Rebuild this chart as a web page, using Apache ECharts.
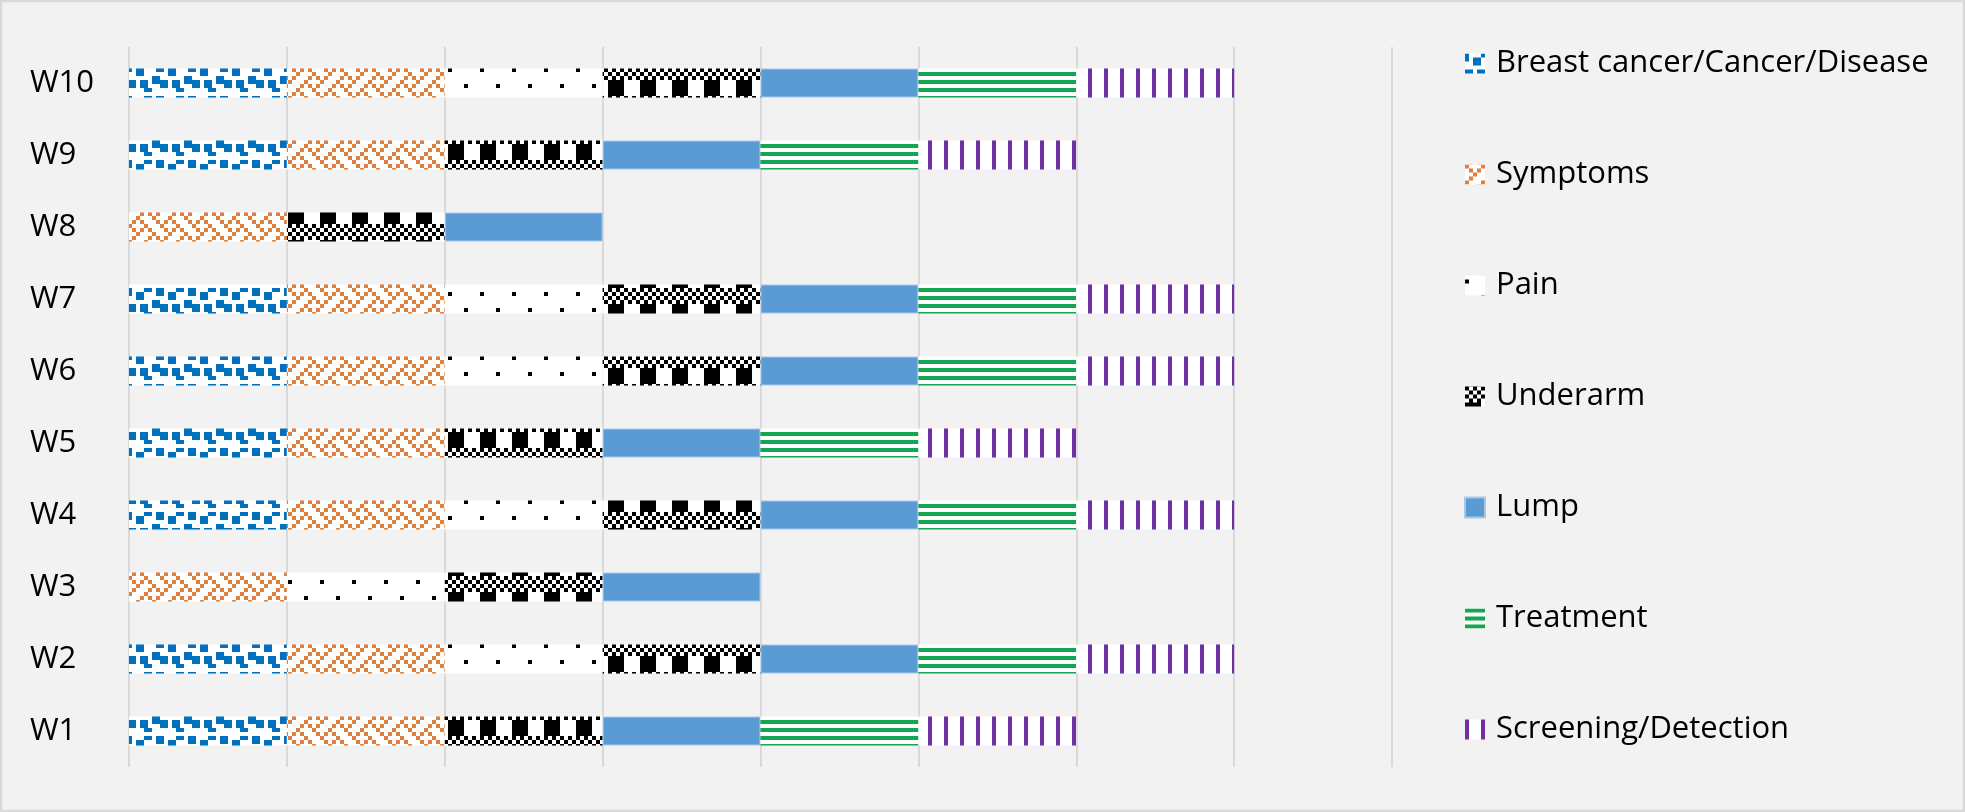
<!DOCTYPE html>
<html>
<head>
<meta charset="utf-8">
<script src="https://cdn.jsdelivr.net/npm/echarts@6/dist/echarts.min.js"></script>
<style>
html,body{margin:0;padding:0;background:#f2f2f2;}
#chart{width:1965px;height:812px;}
</style>
</head>
<body>
<div id="chart"></div>
<script>
// ---- data ----
const categories = ['W1','W2','W3','W4','W5','W6','W7','W8','W9','W10'];
const seriesNames = ['Breast cancer/Cancer/Disease','Symptoms','Pain','Underarm','Lump','Treatment','Screening/Detection'];
const breastCancer = [1,1,0,1,1,1,1,0,1,1];
const symptoms     = [1,1,1,1,1,1,1,1,1,1];
const pain         = [0,1,1,1,0,1,1,0,0,1];
const underarm     = [1,1,1,1,1,1,1,1,1,1];
const lump         = [1,1,1,1,1,1,1,1,1,1];
const treatment    = [1,1,0,1,1,1,1,0,1,1];
const screening    = [1,1,0,1,1,1,1,0,1,1];
const xTicks = [0,1,2,3,4,5,6,7,8];

// ---- pattern tiles ----
function tile(rows, fg, bg, cell) {
  const n = rows.length, m = rows[0].length;
  const c = document.createElement('canvas');
  c.width = m * cell; c.height = n * cell;
  const ctx = c.getContext('2d');
  ctx.fillStyle = bg; ctx.fillRect(0, 0, c.width, c.height);
  ctx.fillStyle = fg;
  for (let r = 0; r < n; r++) for (let k = 0; k < m; k++)
    if (rows[r][k] === '1') ctx.fillRect(k * cell, r * cell, cell, cell);
  return {image: c, repeat: 'repeat'};
}
const patBreast = tile(['10001101','10110001','00110000','00000011','11011011','11011000','00001100','00000000'], '#0070C0', '#ffffff', 4);
const patSymptoms = tile(['10001000','01010100','00100010','01000101','10001000','00010101','00100010','01010001'], '#E0803C', '#ffffff', 4);
const patPain = tile(['00000000','10000000','00000000','00000000','00000000','00001000','00000000','00000000'], '#000000', '#ffffff', 4);
const patUnderarm = tile(['10101010','01010101','10101010','01010101','11110000','11110000','11110000','11110000'], '#000000', '#ffffff', 4);
const patTreatment = tile(['11111111','00000000'], '#13A552', '#ffffff', 4);
const patScreening = tile(['1000','1000'], '#7030A0', '#ffffff', 4);
const fills = [patBreast, patSymptoms, patPain, patUnderarm, '#5B9BD5', patTreatment, patScreening];
const values = [breastCancer, symptoms, pain, underarm, lump, treatment, screening];

const FONT = '"Open Sans", sans-serif';
const chart = echarts.init(document.getElementById('chart'), null, {renderer: 'canvas'});
chart.setOption({
  backgroundColor: '#f2f2f2',
  animation: false,
  graphic: [{
    type: 'rect', shape: {x: 1, y: 1, width: 1963, height: 810},
    style: {fill: 'none', stroke: '#d9d9d9', lineWidth: 2.5}, z: 100
  }],
  grid: {left: 129, right: 573, top: 47, bottom: 45},
  legend: {
    orient: 'vertical', left: 1459, top: 43,
    itemWidth: 20, itemHeight: 20, itemGap: 80,
    icon: 'rect',
    data: seriesNames,
    textStyle: {fontFamily: FONT, fontSize: 31, color: '#000', lineHeight: 30, padding: [0,0,0,6]}
  },
  xAxis: {
    type: 'value', min: xTicks[0], max: xTicks[xTicks.length-1], interval: 1,
    axisLabel: {show: false}, axisTick: {show: false}, axisLine: {show: false},
    splitLine: {show: true, lineStyle: {color: '#d9d9d9', width: 2}}
  },
  yAxis: {
    type: 'category', data: categories,
    axisLine: {show: false}, axisTick: {show: false},
    axisLabel: {fontFamily: FONT, fontSize: 31, color: '#000', align: 'left', margin: 99}
  },
  series: seriesNames.map((name, i) => ({
    name, type: 'bar', stack: 'total', barWidth: 29,
    itemStyle: i === 4 ? {color: fills[i], borderColor: '#a9c8e8', borderWidth: 1} : {color: fills[i]},
    data: values[i].map(v => v === 0 ? '-' : v)
  }))
});
</script>
</body>
</html>
